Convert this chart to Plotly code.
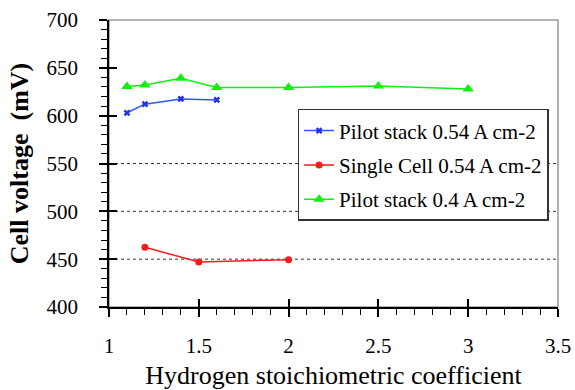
import plotly.graph_objects as go

# Data
x_blue = [1.1, 1.2, 1.4, 1.6]
y_blue = [603, 612, 617.5, 616.5]
x_red = [1.2, 1.5, 2.0]
y_red = [462.5, 447, 449.5]
x_green = [1.1, 1.2, 1.4, 1.6, 2.0, 2.5, 3.0]
y_green = [630.5, 632, 639, 629.5, 629.5, 631, 628]
names = ["Pilot stack 0.54 A cm-2", "Single Cell 0.54 A cm-2", "Pilot stack 0.4 A cm-2"]
grid_values = [450, 500, 550]
x_range = [1, 3.5]
y_range = [400, 700]

FONT = "Liberation Serif, Times New Roman, Liberation Sans, serif"

fig = go.Figure()
fig.add_trace(go.Scatter(x=x_blue, y=y_blue, mode="lines+markers", name=names[0], legendgroup="a",
                         line=dict(color="#3355ff", width=1.5),
                         marker=dict(symbol="x-thin", size=5, color="#2233ee",
                                     line=dict(color="#2233ee", width=2.5))))
fig.add_trace(go.Scatter(x=x_red, y=y_red, mode="lines+markers", name=names[1], legendgroup="b",
                         line=dict(color="#ff1a1a", width=1.5),
                         marker=dict(symbol="circle", size=7, color="#ff1a1a")))
fig.add_trace(go.Scatter(x=x_green, y=y_green, mode="lines+markers", name=names[2], legendgroup="c",
                         line=dict(color="#11ee11", width=1.5),
                         marker=dict(symbol="triangle-up", size=10, color="#11ee11")))
# invisible traces to register overlay axes
fig.add_trace(go.Scatter(x=[None], y=[None], xaxis="x2", yaxis="y", showlegend=False, hoverinfo="skip"))
fig.add_trace(go.Scatter(x=[None], y=[None], xaxis="x", yaxis="y2", showlegend=False, hoverinfo="skip"))

for g in grid_values:
    fig.add_shape(type="line", xref="paper", x0=0, x1=1, yref="y", y0=g, y1=g,
                  line=dict(color="#333333", width=1, dash="dot"), layer="below")
# frame
fig.add_shape(type="rect", xref="paper", yref="paper", x0=0, x1=1, y0=0, y1=1,
              line=dict(color="#999999", width=1.5), layer="below")

fig.update_layout(
    width=575, height=390,
    margin=dict(l=109, r=17, t=20, b=83),
    paper_bgcolor="white", plot_bgcolor="white",
    font=dict(family=FONT, color="black", size=21),
    xaxis=dict(range=x_range, dtick=0.5, tick0=1, showgrid=False, zeroline=False, automargin=False,
               showline=True, linecolor="black", linewidth=1.5,
               ticks="outside", ticklen=8, tickwidth=1.5, tickcolor="black",
               minor=dict(dtick=0.1, ticks="outside", ticklen=6, tickwidth=1, tickcolor="black"),
               ticklabelstandoff=11,
               tickfont=dict(family=FONT, size=21),
               title=dict(text="Hydrogen stoichiometric coefficient",
                          font=dict(family=FONT, size=26), standoff=11)),
    xaxis2=dict(range=x_range, dtick=0.5, tick0=1, overlaying="x", anchor="y", side="bottom",
                showgrid=False, zeroline=False, showline=False, showticklabels=False, automargin=False,
                ticks="inside", ticklen=8, tickwidth=1.5, tickcolor="black"),
    yaxis=dict(range=y_range, dtick=50, showgrid=False, zeroline=False, automargin=False,
               showline=True, linecolor="black", linewidth=1.5,
               ticks="outside", ticklen=8, tickwidth=1.5, tickcolor="black",
               minor=dict(dtick=10, ticks="outside", ticklen=6, tickwidth=1, tickcolor="black"),
               ticklabelstandoff=17,
               tickfont=dict(family=FONT, size=21),
               title=dict(text="<b>Cell voltage  (mV)</b>",
                          font=dict(family=FONT, size=26), standoff=10)),
    yaxis2=dict(range=y_range, dtick=50, overlaying="y", anchor="x", side="left",
                showgrid=False, zeroline=False, showline=False, showticklabels=False, automargin=False,
                ticks="inside", ticklen=8, tickwidth=1.5, tickcolor="black"),
    legend=dict(x=0.42, y=0.69, xanchor="left", yanchor="top", traceorder="grouped",
                bordercolor="#333333", borderwidth=1.5, bgcolor="white",
                font=dict(family=FONT, size=21), tracegroupgap=4, itemwidth=30),
    showlegend=True,
)

fig.write_html("out.html")
